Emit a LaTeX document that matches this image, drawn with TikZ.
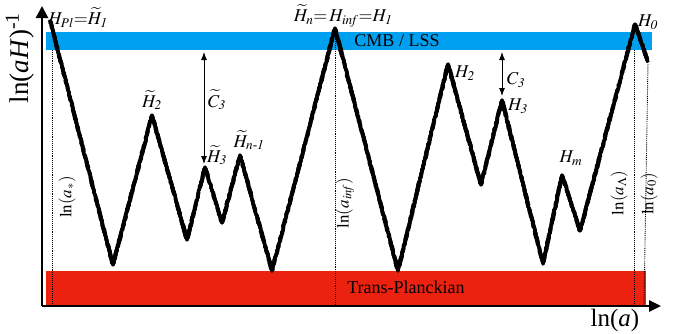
\documentclass[tikz,border=0pt]{standalone}
\usepackage{amsmath}
\usepackage{mathptmx}
\usepackage{fontspec}
\setmainfont{Liberation Serif}
\usetikzlibrary{arrows.meta,decorations.pathmorphing}
\definecolor{cmbblue}{RGB}{0,160,240}
\definecolor{tpred}{RGB}{236,34,16}

\begin{document}
\begin{tikzpicture}[x=1pt, y=-1pt,
    lbl/.style={font=\fontsize{18}{20}\selectfont, inner sep=1pt},
    axlbl/.style={font=\fontsize{17}{19}\selectfont, rotate=90, inner sep=1pt},
    tick/.style={densely dotted, line width=0.9pt},
    sketch/.style={line width=2.6pt, line join=round,
        decorate, decoration={random steps, segment length=2.5pt, amplitude=1.1pt}}]
    \useasboundingbox (0,0) rectangle (675,333);

    % Bands
    \fill[cmbblue] (46,32) rectangle (652,50);
    \fill[tpred] (46,271) rectangle (646,305);
    \node[lbl] (cmb) at (397,41) {CMB / LSS};
    \node[lbl] (tp) at (406,287) {Trans-Planckian};

    % Axes
    \coordinate (o) at (42,306);
    \coordinate (ytop) at (42,6);
    \coordinate (xend) at (661,306);
    \draw[line width=2.6pt, -{Triangle[length=12pt,width=12pt]}] (o) -- (ytop);
    \draw[line width=2.6pt, -{Triangle[length=12pt,width=11pt]}] (o) -- (xend);
    \node[rotate=90, font=\fontsize{27}{30}\selectfont] (ylab) at (20,58) {ln(\textit{aH})\textsuperscript{-1}};
    \node[font=\fontsize{25}{28}\selectfont] (xlab) at (615,320) {ln(\textit{a})};

    % Zigzag turning points
    \coordinate (p0) at (50,20);
    \coordinate (p1) at (113,265);
    \coordinate (p2) at (152,115);
    \coordinate (p3) at (187,240);
    \coordinate (p4) at (205,167);
    \coordinate (p5) at (222,223);
    \coordinate (p6) at (240,155);
    \coordinate (p7) at (272,271);
    \coordinate (p8) at (335,28);
    \coordinate (p9) at (398,271);
    \coordinate (p10) at (448,64);
    \coordinate (p11) at (481,185);
    \coordinate (p12) at (502,100);
    \coordinate (p13) at (543,264);
    \coordinate (p14) at (562,175);
    \coordinate (p15) at (580,231);
    \coordinate (p16) at (635,24);
    \coordinate (p17) at (648,62);

    % Marked scale factors
    \draw[tick] (52,50) -- (52,305);
    \draw[tick] (p8) -- (335,305);
    \draw[tick] (634,50) -- (634,305);
    \draw[tick] (p17) -- (644,305);
    \node[axlbl] (astar) at (67,197) {$\ln(a_{*})$};
    \node[axlbl] (ainf) at (345,203) {$\ln(a_{\mathit{inf}})$};
    \node[axlbl] (alam) at (619,193) {$\ln(a_{\Lambda})$};
    \node[axlbl] (azero) at (649,194) {$\ln(a_{0})$};

    % Hubble radius history (hand-drawn look)
    \foreach \dx/\dy in {0/0, 2.3/1.0, -2.2/-0.9, 1.0/2.4, -1.1/-2.3, 2.6/-0.5, -2.5/0.6} {
        \draw[sketch, shift={(\dx,\dy)}] (p0) -- (p1) -- (p2) -- (p3) -- (p4) -- (p5)
            -- (p6) -- (p7) -- (p8) -- (p9) -- (p10) -- (p11) -- (p12) -- (p13)
            -- (p14) -- (p15) -- (p16) -- (p17);
    }

    % Peak labels
    \node[lbl] (hpl) at (78,18) {$H_{Pl}{=}\widetilde{H}_{\mathit{1}}$};
    \node[lbl] (hn) at (343,16) {$\widetilde{H}_n{=}\,H_{\mathit{inf}}{=}H_{\mathit{1}}$};
    \node[lbl] (ht2) at (152,100) {$\widetilde{H}_{\mathit{2}}$};
    \node[lbl] (ht3) at (217,155) {$\widetilde{H}_{\mathit{3}}$};
    \node[lbl] (htn) at (249,140) {$\widetilde{H}_{n\text{-}\mathit{1}}$};
    \node[lbl] (h2) at (465,73) {$H_{\mathit{2}}$};
    \node[lbl] (h3) at (518,106) {$H_{\mathit{3}}$};
    \node[lbl] (hm) at (571,158) {$H_m$};
    \node[lbl] (h0) at (648,22) {$H_{\mathit{0}}$};

    % Gaps between peaks
    \coordinate (ct3a) at (204,52);
    \coordinate (ct3b) at (204,164);
    \coordinate (c3a) at (502,52);
    \coordinate (c3b) at (502,96);
    \draw[line width=0.9pt, {Latex[length=8pt,width=6pt]}-{Latex[length=8pt,width=6pt]}] (ct3a) -- (ct3b);
    \draw[line width=0.9pt, {Latex[length=8pt,width=6pt]}-{Latex[length=8pt,width=6pt]}] (c3a) -- (c3b);
    \node[lbl] (ct3) at (217,100) {$\widetilde{C}_{\mathit{3}}$};
    \node[lbl] (c3) at (516,80) {$C_{\mathit{3}}$};
\end{tikzpicture}
\end{document}
